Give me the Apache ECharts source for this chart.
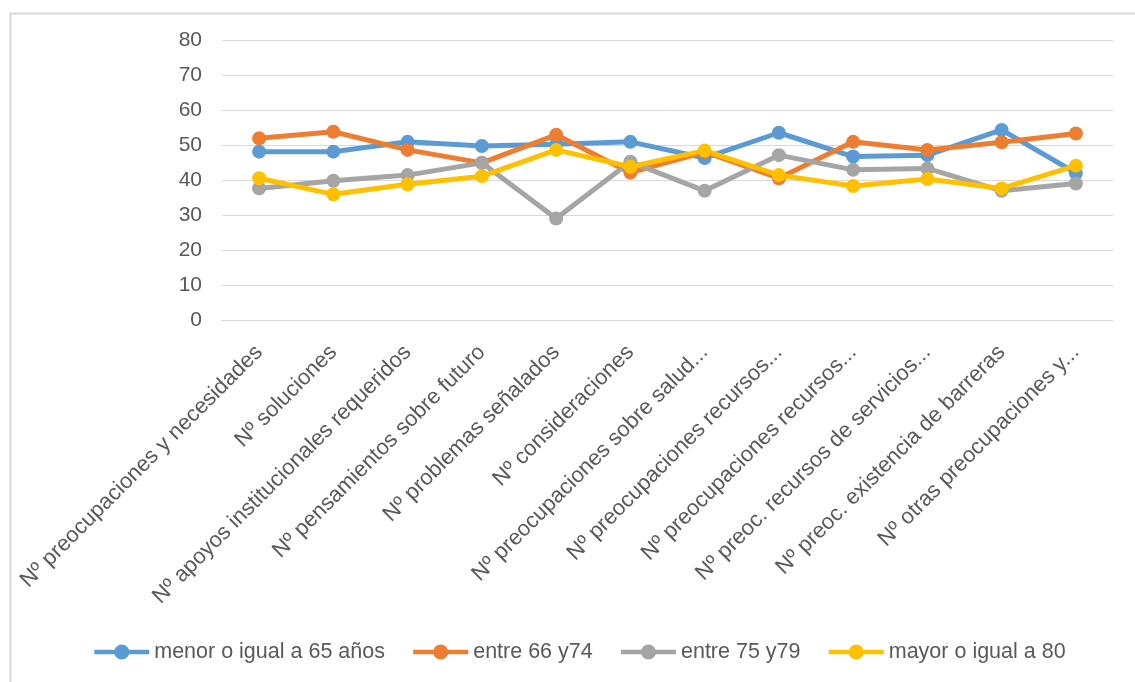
<!DOCTYPE html>
<html>
<head>
<meta charset="utf-8">
<script src="https://cdn.jsdelivr.net/npm/echarts@6/dist/echarts.min.js"></script>
<style>
  html, body { margin: 0; padding: 0; background: #ffffff; }
  #chart { width: 1135px; height: 682px; }
</style>
</head>
<body>
<div id="chart"></div>
<script>
// Categories (x axis)
const categories = [
  'Nº preocupaciones y necesidades',
  'Nº soluciones',
  'Nº apoyos institucionales requeridos',
  'Nº pensamientos sobre futuro',
  'Nº problemas señalados',
  'Nº consideraciones',
  'Nº preocupaciones sobre salud...',
  'Nº preocupaciones recursos...',
  'Nº preocupaciones recursos...',
  'Nº preoc. recursos de servicios...',
  'Nº preoc. existencia de barreras',
  'Nº otras preocupaciones y...'
];

// Series names
const seriesNames = ['menor o igual a 65 años', 'entre 66 y74', 'entre 75 y79', 'mayor o igual a 80'];

// Series values
const menor65 = [48.1, 48.1, 50.9, 49.7, 50.2, 50.9, 46.3, 53.5, 46.7, 47.1, 54.3, 42.0];
const entre66y74 = [51.9, 53.8, 48.6, 44.9, 52.9, 42.1, 48.0, 40.5, 50.9, 48.6, 50.8, 53.3];
const entre75y79 = [37.6, 39.8, 41.4, 44.9, 29.0, 45.2, 36.9, 47.1, 42.9, 43.3, 36.9, 39.0];
const mayor80 = [40.5, 35.9, 38.8, 41.1, 48.6, 43.8, 48.4, 41.4, 38.3, 40.3, 37.6, 44.1];

// Value axis ticks
const yTicks = [0, 10, 20, 30, 40, 50, 60, 70, 80];

const colors = ['#5B9BD5', '#ED7D31', '#A5A5A5', '#FFC000'];
const seriesData = [menor65, entre66y74, entre75y79, mayor80];
const FONT = 'Liberation Sans, Arial, sans-serif';

const chart = echarts.init(document.getElementById('chart'), null, { renderer: 'canvas' });

chart.setOption({
  animation: false,
  backgroundColor: '#ffffff',
  color: colors,
  graphic: [{
    type: 'rect',
    left: 8, top: 11,
    shape: { width: 1140, height: 690 },
    style: { fill: 'none', stroke: '#d9d9d9', lineWidth: 2 },
    silent: true
  }],
  grid: { left: 222, right: 22, top: 40, bottom: 362 },
  legend: {
    left: 92, top: 641, padding: 0,
    itemWidth: 55, itemHeight: 19, itemGap: 26,
    lineStyle: { width: 4.5 },
    textStyle: { color: '#595959', fontSize: 21.5, fontFamily: FONT },
    data: seriesNames
  },
  xAxis: {
    type: 'category',
    data: categories,
    boundaryGap: true,
    axisLine: { show: true, lineStyle: { color: '#d9d9d9', width: 1 } },
    axisTick: { show: false },
    axisLabel: {
      interval: 0, rotate: 45, margin: 29,
      color: '#595959', fontSize: 22, fontFamily: FONT
    }
  },
  yAxis: {
    type: 'value',
    min: yTicks[0], max: yTicks[yTicks.length - 1], interval: yTicks[1] - yTicks[0],
    axisLine: { show: false },
    axisTick: { show: false },
    splitLine: { lineStyle: { color: '#d9d9d9', width: 1 } },
    axisLabel: { margin: 20, color: '#595959', fontSize: 21, fontFamily: FONT }
  },
  series: seriesNames.map((name, i) => ({
    name,
    type: 'line',
    data: seriesData[i],
    symbol: 'circle',
    symbolSize: 14,
    showAllSymbol: true,
    lineStyle: { width: 5, color: colors[i] },
    itemStyle: { color: colors[i] }
  }))
});
</script>
</body>
</html>
